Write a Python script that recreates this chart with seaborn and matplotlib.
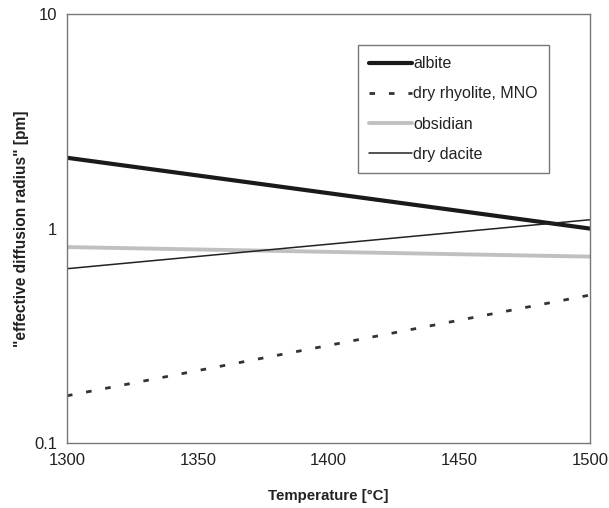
import pandas as pd
import matplotlib
matplotlib.use("Agg")
import matplotlib.pyplot as plt
import seaborn as sns

# values
temperature = [1300, 1500]
albite = [2.14, 1.0]
dry_rhyolite = [0.166, 0.49]
obsidian = [0.82, 0.74]
dry_dacite = [0.65, 1.10]

names = ["albite", "dry rhyolite, MNO", "obsidian", "dry dacite"]
series = [albite, dry_rhyolite, obsidian, dry_dacite]

df = pd.concat([pd.DataFrame({"T": temperature, "r": vals, "name": n})
                for n, vals in zip(names, series)], ignore_index=True)

sns.set_style("white")
plt.rcParams["font.family"] = ["Liberation Sans", "DejaVu Sans"]

fig = plt.figure(figsize=(6.09, 5.08), dpi=100)
ax = fig.add_axes([0.110, 0.128, 0.859, 0.844])

styles = {
    "albite": dict(color="#1a1a1a", linewidth=3.0),
    "dry rhyolite, MNO": dict(color="#333333", linewidth=2.0, dashes=(2.0, 5.0)),
    "obsidian": dict(color="#c0c0c0", linewidth=2.8),
    "dry dacite": dict(color="#222222", linewidth=1.1),
}
for n in names:
    st = dict(styles[n])
    d = st.pop("dashes", None)
    sub = df[df["name"] == n]
    sns.lineplot(data=sub, x="T", y="r", ax=ax, label=n, **st)
    if d is not None:
        ax.lines[-1].set_dashes(d)

ax.set_yscale("log")
ax.set_xlim(1300, 1500)
ax.set_ylim(0.1, 10)
ax.set_xticks([1300, 1350, 1400, 1450, 1500])
ax.set_yticks([0.1, 1, 10])
ax.set_yticklabels(["0.1", "1", "10"])
ax.minorticks_off()
ax.tick_params(axis="both", labelsize=12, colors="#555555", labelcolor="#222222",
               length=4, direction="out", width=0.8, pad=3)
ax.tick_params(axis="x", direction="inout", length=6, pad=4)
for sp in ax.spines.values():
    sp.set_color("#777777")
    sp.set_linewidth(1.0)

ax.set_xlabel("Temperature [°C]", fontsize=10.8, fontweight="bold", color="#222222", labelpad=15)
ax.set_ylabel("\"effective diffusion radius\" [pm]", fontsize=11.2, fontweight="bold",
              color="#222222", labelpad=4)

leg = ax.legend(loc="upper left", bbox_to_anchor=(0.556, 0.928), fontsize=11.5,
                frameon=True, fancybox=False, edgecolor="#777777", framealpha=1,
                handlelength=2.7, handletextpad=0.05, labelspacing=0.95,
                borderpad=0.7, borderaxespad=0)
leg.get_frame().set_linewidth(1.0)
for t in leg.get_texts():
    t.set_color("#222222")

fig.savefig("out.png", dpi=100)
